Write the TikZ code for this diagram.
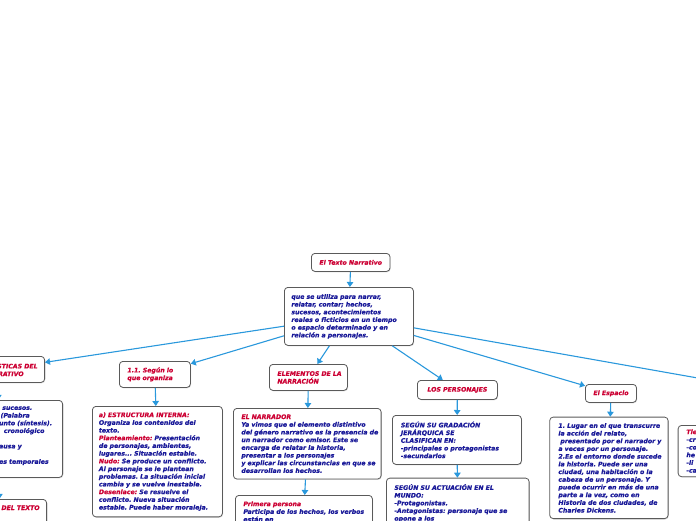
\documentclass[tikz,border=0pt]{standalone}
\usepackage{fontspec}
\setmainfont{DejaVu Sans}[BoldItalicFeatures={FakeBold=0.6}]
\usetikzlibrary{arrows.meta,shadows}
\definecolor{narred}{HTML}{CC0033}
\definecolor{narblue}{HTML}{1A1A99}
\definecolor{linkblue}{HTML}{2A98DC}
\definecolor{boxgray}{HTML}{5A5A5A}
\frenchspacing

\begin{document}
\begin{tikzpicture}[x=1pt,y=-1pt,
  box/.style={draw=boxgray, line width=0.8pt, rounded corners=3.5pt, fill=white,
    drop shadow={shadow xshift=0.7pt,shadow yshift=-0.9pt,opacity=0.25},
    inner xsep=8pt, inner ysep=6pt, align=left, text=narblue, anchor=north west,
    font=\fontsize{6.2}{7.7}\selectfont\bfseries\itshape,
    execute at begin node={\rightskip=0pt plus 1fil minus 40pt\relax\hyphenpenalty=10000\relax}},
  head/.style={box, text=narred},
  link/.style={linkblue, line width=1.1pt, -{Triangle[width=6.5pt,length=5pt]}}]
\useasboundingbox (0,0) rectangle (696,520);
\clip (0,0) rectangle (696,520);
\node[head, minimum width=76pt, minimum height=18pt, align=center] (texto) at (311,253) {El Texto Narrativo};
\node[box, text width=115pt, inner xsep=7pt, minimum height=58pt] (definicion) at (284,287) {que se utiliza para narrar,\\relatar, contar; hechos,\\sucesos, acontecimientos\\reales o ficticios en un tiempo\\o espacio determinado y en\\relación a personajes.};
\node[head, anchor=north east, inner xsep=7pt, minimum height=26pt] (caract) at (45,356) {CARACTERÍSTICAS DEL\\TEXTO NARRATIVO};
\node[box, anchor=north east, text width=114pt, inner xsep=7pt] (rasgos) at (63,400) {\hspace*{60.7pt}sucesos.\\\hspace*{59pt}(Palabra\\\hspace*{57.5pt}unto (síntesis).\\\hspace*{62.3pt}cronológico\\\mbox{}\\\hspace*{57.5pt}ausa y\\\mbox{}\\\hspace*{57.5pt}es temporales\\\mbox{}};
\node[head, anchor=north east, text width=80pt, inner xsep=7pt, align=right, text depth=14pt, execute at begin node={\rightskip=0pt\relax}] (estructura) at (47,499) {A DEL TEXTO};
\node[head, text width=55pt, minimum height=25pt] (organiza) at (119,361) {1.1. Según lo\\que organiza};
\node[box, text width=117pt, inner xsep=6.5pt] (interna) at (92,406) {\textcolor{narred}{a) ESTRUCTURA INTERNA:}\\Organiza los contenidos del\\texto.\\\textcolor{narred}{Planteamiento:} Presentación\\de personajes, ambientes,\\lugares... Situación estable.\\\textcolor{narred}{Nudo:} Se produce un conflicto.\\Al personaje se le plantean\\problemas. La situación inicial\\cambia y se vuelve inestable.\\\textcolor{narred}{Desenlace:} Se resuelve el\\conflicto. Nueva situación\\estable. Puede haber moraleja.};
\node[head, text width=62pt, minimum height=26pt] (elementos) at (269,364) {ELEMENTOS DE LA\\NARRACIÓN};
\node[box, text width=131.7pt] (narrador) at (233,408) {\textcolor{narred}{EL NARRADOR}\\Ya vimos que el elemento distintivo\\del género narrativo es la presencia de\\un narrador como emisor. Este se\\encarga de relatar la historia,\\presentar a los personajes\\y explicar las circunstancias en que se\\desarrollan los hechos.};
\node[box, text width=121pt] (primera) at (235,495) {\textcolor{narred}{Primera persona}\\Participa de los hechos, los verbos\\están en};
\node[head, minimum width=80pt, minimum height=19pt, align=center] (personajes) at (417,380) {LOS PERSONAJES};
\node[box, text width=112pt, inner xsep=8.5pt, minimum height=49pt] (gradacion) at (392,415) {SEGÚN SU GRADACIÓN\\JERÁRQUICA SE\\CLASIFICAN EN:\\-principales o protagonistas\\-secundarios};
\node[box, text width=126.7pt] (actuacion) at (386,477.7) {SEGÚN SU ACTUACIÓN EN EL\\MUNDO:\\-Protagonistas.\\-Antagonistas: personaje que se\\opone a los};
\node[head, minimum width=51pt, minimum height=17pt, align=center] (espacio) at (585,384) {El Espacio};
\node[box, text width=101pt, inner xsep=8.7pt] (lugar) at (549.3,416.7) {1. Lugar en el que transcurre\\la acción del relato,\\\hspace*{2pt}presentado por el narrador y\\a veces por un personaje.\\2.Es el entorno donde sucede\\la historia. Puede ser una\\ciudad, una habitación o la\\cabeza de un personaje. Y\\puede ocurrir en más de una\\parte a la vez, como en\\Historia de dos ciudades, de\\Charles Dickens.};
\node[box, text width=60pt, inner xsep=8.3pt, inner ysep=4pt] (tiempo) at (677.7,425) {\textcolor{narred}{Tie}\\-cr\\-co\\he\\-li\\-ca};
\coordinate (tiempohead) at (760,389);
\draw[link] (texto) -- (definicion);
\draw[link] (definicion) -- (caract);
\draw[link] (definicion) -- (organiza);
\draw[link] (definicion) -- (elementos);
\draw[link] (definicion) -- (personajes);
\draw[link] (definicion) -- (espacio);
\draw[link] (definicion) -- (tiempohead);
\draw[link] (caract) -- (rasgos);
\draw[link] (rasgos) -- (estructura);
\draw[link] (organiza) -- (interna);
\draw[link] (elementos) -- (narrador);
\draw[link] (narrador) -- (primera);
\draw[link] (personajes) -- (gradacion);
\draw[link] (gradacion) -- (actuacion);
\draw[link] (espacio) -- (lugar);
\end{tikzpicture}
\end{document}
